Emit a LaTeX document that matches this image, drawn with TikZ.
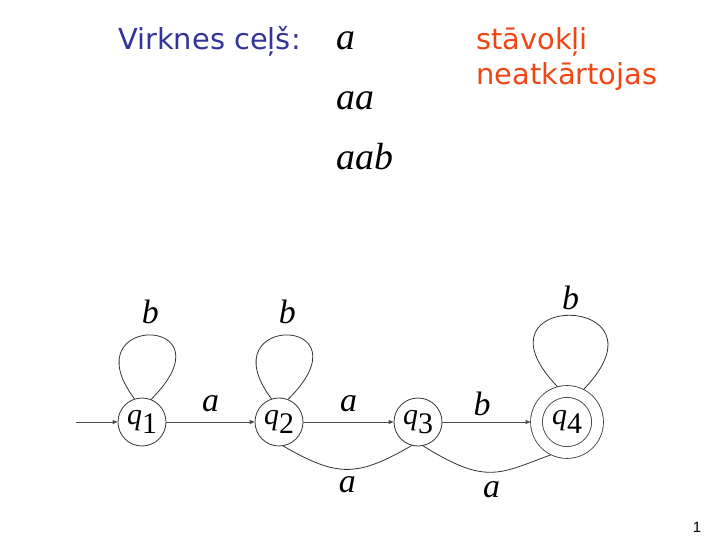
\documentclass[tikz,border=0pt]{standalone}
\usepackage{fontspec}
\usepackage{tikz}
\usetikzlibrary{arrows.meta,positioning}

\newfontfamily\slidefont{DejaVu Sans}
\newfontfamily\pagefont{Liberation Sans}
\newfontfamily\symfont{Liberation Serif}
\newcommand{\sym}[1]{{\symfont\itshape #1}}
\newcommand{\stname}[1]{{\symfont\itshape q}\raisebox{-9bp}{\symfont #1}}
\newcommand{\statefont}{\fontsize{30}{36}\selectfont}
\newcommand{\labelfont}{\fontsize{34}{40}\selectfont}
\newcommand{\wordfont}{\fontsize{38}{46}\selectfont}
\definecolor{titleblue}{RGB}{51,51,153}
\definecolor{notered}{RGB}{240,70,20}

\begin{document}
\begin{tikzpicture}[x=1bp, y=1bp, >={Triangle[length=5bp,width=4bp]},
		node distance=137bp,
		state/.style={circle, draw=black!80, line width=.8bp, minimum size=48bp, inner sep=0pt, font=\statefont},
		accept/.style={state, double, double distance=11bp, minimum size=61bp, outer sep=6bp},
		post/.style={->, line width=.8bp, draw=black!70},
		curve/.style={-, line width=.8bp, draw=black!80},
		lbl/.style={font=\labelfont, inner sep=2bp},
		word/.style={font=\wordfont, anchor=base west, inner sep=0pt},
		slide/.style={font=\slidefont\fontsize{29}{35}\selectfont, anchor=base west, inner sep=0pt}]

	\useasboundingbox (0,0) rectangle (720,540);

	% title and strings
	\node [slide, text=titleblue] (title) at (118,490) {Virknes ceļš:};
	\node [word] (w1) at (336,490) {\sym{a}};
	\node [word] (w2) at (336,430) {\sym{aa}};
	\node [word] (w3) at (336,370) {\sym{aab}};
	\node [slide, text=notered] (note1) at (476,490) {stāvokļi};
	\node [slide, text=notered] (note2) at (476,455) {neatkārtojas};

	% automaton
	\node [state] (q1) at (142,118) {\stname{1}};
	\node [state] (q2) [right of=q1] {\stname{2}};
	\node [state] (q3) [right of=q2, node distance=139bp] {\stname{3}};
	\node [accept] (q4) [right of=q3, node distance=149bp] {\stname{4}};
	\coordinate (start) at (76,118);

	\draw[post] (start) -- (q1);
	\draw[post] (q1) -- node [lbl, above=8bp] {\sym{a}} (q2);
	\draw[post] (q2) -- node [lbl, above=8bp] {\sym{a}} (q3);
	\draw[post] (q3) -- node [lbl, above=4bp, pos=.45] {\sym{b}} (q4);

	\draw[curve] (q1.108) .. controls +(127:108bp) and +(45:120bp) .. node [lbl, above=9bp] {\sym{b}} (q1.68);
	\draw[curve] (q2.108) .. controls +(127:108bp) and +(45:120bp) .. node [lbl, above=9bp] {\sym{b}} (q2.68);
	\draw[curve] (q4.105) .. controls +(134:135bp) and +(46:135bp) .. node [lbl, above=3bp] {\sym{b}} (q4.63);

	\draw[curve] (q2.-80) .. controls +(-30:63bp) and +(-150:63bp) .. node [lbl, below=5bp] {\sym{a}} (q3.-105);
	\draw[curve] (q3.-78) .. controls +(-32:75bp) and +(-160:55bp) .. node [lbl, below=7bp] {\sym{a}} (q4.-116);

	\node [font=\pagefont\fontsize{15}{18}\selectfont, anchor=base] (page) at (697,7) {1};
\end{tikzpicture}
\end{document}
